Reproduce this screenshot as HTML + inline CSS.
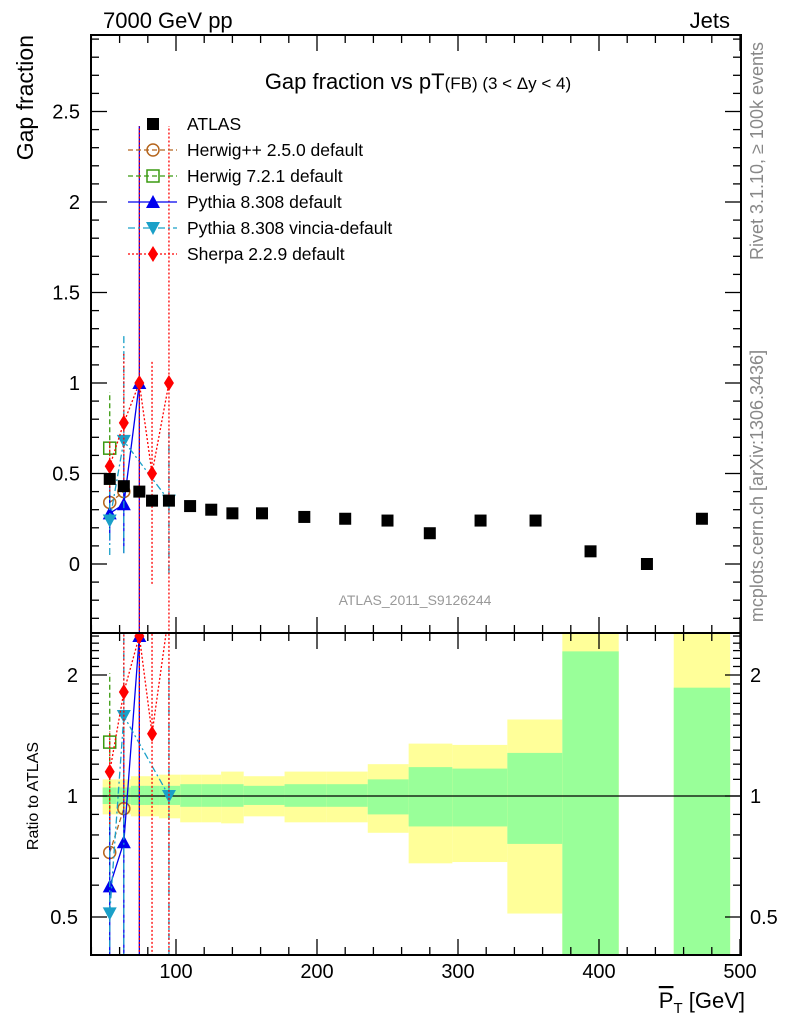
<!DOCTYPE html>
<html><head><meta charset="utf-8"><style>
html,body{margin:0;padding:0;background:#fff;width:786px;height:1024px;overflow:hidden}
svg{display:block;font-family:"Liberation Sans",sans-serif}
</style></head><body>
<svg id="c" width="786" height="1024" xmlns="http://www.w3.org/2000/svg"></svg>
<script>
// ---- data ----
const binLo = [48,58,68,78,88,103,118,132,148,177,207,236,265,296,335,374,414,453];
const binHi = [58,68,78,88,103,118,132,148,177,207,236,265,296,335,374,414,453,493];
const atlasX = [53,63,74,83,95,110,125,140,161,191,220,250,280,316,355,394,434,473];
const atlasY = [0.47,0.43,0.40,0.35,0.35,0.32,0.30,0.28,0.28,0.26,0.25,0.24,0.17,0.24,0.24,0.07,0.0,0.25];
const yelUp = [1.10,1.10,1.12,1.12,1.13,1.13,1.13,1.15,1.12,1.15,1.15,1.20,1.35,1.34,1.55,3.0,null,3.0];
const yelDn = [0.90,0.90,0.89,0.89,0.88,0.86,0.86,0.855,0.89,0.86,0.86,0.81,0.68,0.685,0.51,0.3,null,0.3];
const grnUp = [1.05,1.05,1.06,1.06,1.06,1.07,1.07,1.07,1.06,1.07,1.07,1.10,1.18,1.17,1.28,2.29,null,1.86];
const grnDn = [0.955,0.955,0.95,0.95,0.95,0.94,0.94,0.94,0.95,0.94,0.94,0.90,0.84,0.84,0.76,0.3,null,0.3];
const hppX=[53,63], hppY=[0.34,0.40], hppLo=[0.30,0.36], hppHi=[0.38,0.44];
const h7X=[53], h7Y=[0.64], h7Lo=[0.33], h7Hi=[0.95];
const pyX=[53,63,74], pyY=[0.28,0.33,1.0], pyLo=[0.13,0.06,-0.5], pyHi=[0.43,0.60,2.42];
const viX=[53,63,95], viY=[0.24,0.68,0.35], viLo=[0.05,0.06,-0.05], viHi=[0.43,1.27,0.73];
const shX=[53,63,74,83,95], shY=[0.54,0.78,1.0,0.50,1.0], shLo=[0.4,0.4,-0.5,-0.11,-0.5], shHi=[0.68,1.16,2.42,1.12,2.42];
const xTicks=[100,200,300,400,500];
const yTicks=[0,0.5,1,1.5,2,2.5];
const rTicks=[0.5,1,2];

// ---- geometry ----
const L=91,R=741,T=35,B=633,RB=955;
const X=v=>35+1.41*v;
const Y=v=>564-181*v;
const RY=v=>796-121*Math.log2(v);
const NS="http://www.w3.org/2000/svg";
const svg=document.getElementById('c');
function mk(tag,attrs,parent){const e=document.createElementNS(NS,tag);for(const k in attrs)e.setAttribute(k,attrs[k]);(parent||svg).appendChild(e);return e;}
function txt(s,x,y,attrs,parent){const e=mk('text',Object.assign({x:x,y:y},attrs),parent);e.textContent=s;return e;}

const defs=mk('defs',{});
const cp1=mk('clipPath',{id:'cm'},defs);mk('rect',{x:L,y:T,width:R-L,height:B-T},cp1);
const cp2=mk('clipPath',{id:'cr'},defs);mk('rect',{x:L,y:B,width:R-L,height:RB-B},cp2);

// bands
const gb=mk('g',{'clip-path':'url(#cr)'});


for(let i=0;i<binLo.length;i++){
  if(yelUp[i]===null)continue;
  const x1=X(binLo[i]),x2=X(binHi[i]);
  const y1=mk('rect',{x:x1,y:RY(yelUp[i]),width:x2-x1,height:RY(yelDn[i])-RY(yelUp[i]),fill:'#ffff99'},gb);
  
  
  const g1=mk('rect',{x:x1,y:RY(grnUp[i]),width:x2-x1,height:RY(grnDn[i])-RY(grnUp[i]),fill:'#99ff99'},gb);
  
  
}
mk('line',{x1:L,x2:R,y1:RY(1),y2:RY(1),stroke:'#000','stroke-width':1.2});

// markers
function marker(kind,x,y,col,parent){
  const s=6;
  if(kind==='sq')return mk('rect',{x:x-s,y:y-s,width:2*s,height:2*s,fill:'#000'},parent);
  if(kind==='osq')return mk('rect',{x:x-s,y:y-s,width:2*s,height:2*s,fill:'none',stroke:col,'stroke-width':1.5},parent);
  if(kind==='oc')return mk('circle',{cx:x,cy:y,r:6,fill:'none',stroke:col,'stroke-width':1.5},parent);
  if(kind==='tu')return mk('path',{d:`M${x-7},${y+6}L${x+7},${y+6}L${x},${y-7}Z`,fill:col},parent);
  if(kind==='td')return mk('path',{d:`M${x-7},${y-6}L${x+7},${y-6}L${x},${y+7}Z`,fill:col},parent);
  if(kind==='di')return mk('path',{d:`M${x},${y-8}L${x+5},${y}L${x},${y+8}L${x-5},${y}Z`,fill:col},parent);
}
const series=[
 {name:'herwigpp',xs:hppX,ys:hppY,lo:hppLo,hi:hppHi,col:'#b5651d',dash:'5,3',m:'oc'},
 {name:'herwig7',xs:h7X,ys:h7Y,lo:h7Lo,hi:h7Hi,col:'#3a9a10',dash:'5,3',m:'osq'},
 {name:'pythia',xs:pyX,ys:pyY,lo:pyLo,hi:pyHi,col:'#0000ee',dash:'',m:'tu'},
 {name:'vincia',xs:viX,ys:viY,lo:viLo,hi:viHi,col:'#1aa0c8',dash:'7,3,2,3',m:'td'},
 {name:'sherpa',xs:shX,ys:shY,lo:shLo,hi:shHi,col:'#ff0000',dash:'2,2',m:'di'}
];
function atl(x){return atlasY[atlasX.indexOf(x)];}
for(const pass of [0,1]){
  const g=mk('g',{'clip-path':pass?'url(#cr)':'url(#cm)'});
  
  
  const yf=pass?(v,x)=>RY(Math.max(v/atl(x),0.01)):(v)=>Y(v);
  for(const s of series){
    const sg=mk('g',{},g);
    
    
    const pts=s.xs.map((x,i)=>X(x)+','+yf(s.ys[i],x)).join(' ');
    mk('polyline',{points:pts,fill:'none',stroke:s.col,'stroke-width':1.3,'stroke-dasharray':s.dash},sg);
    s.xs.forEach((x,i)=>{
      mk('line',{x1:X(x),x2:X(x),y1:yf(s.lo[i],x),y2:yf(s.hi[i],x),stroke:s.col,'stroke-width':1.3,'stroke-dasharray':s.dash},sg);
      const m=marker(s.m,X(x),yf(s.ys[i],x),s.col,sg);
      
      
    });
  }
  if(!pass){
    atlasX.forEach((x,i)=>{
      const m=marker('sq',X(x),Y(atlasY[i]),'#000',g);
      
      
    });
  }
}

// frames and ticks
mk('rect',{x:L,y:T,width:R-L,height:B-T,fill:'none',stroke:'#000','stroke-width':2});
mk('rect',{x:L,y:B,width:R-L,height:RB-B,fill:'none',stroke:'#000','stroke-width':2});
const tk=mk('g',{stroke:'#000','stroke-width':1.3});
for(let v=40;v<=500;v+=20){
  const maj=v%100===0,l=maj?16:8,x=X(v);
  for(const [y0,d] of [[T,1],[B,-1],[B,1],[RB,-1]]) mk('line',{x1:x,x2:x,y1:y0,y2:y0+d*l},tk);
}
for(let k=-3;k<=29;k++){
  const v=k/10,y=Y(v);if(y<T||y>B)continue;
  const l=(k%5===0)?16:8;
  mk('line',{x1:L,x2:L+l,y1:y,y2:y},tk);mk('line',{x1:R,x2:R-l,y1:y,y2:y},tk);
}
const rmin=[0.4,0.5,0.6,0.7,0.8,0.9,1.0,1.1,1.2,1.3,1.4,1.5,1.6,1.7,1.8,1.9,2.0,2.1,2.2,2.3,2.4,2.5];
for(const v of rmin){const y=RY(v);if(y<B||y>RB)continue;
  const l=rTicks.includes(v)?16:8;
  mk('line',{x1:L,x2:L+l,y1:y,y2:y},tk);mk('line',{x1:R,x2:R-l,y1:y,y2:y},tk);}

// tick labels
xTicks.forEach(v=>{const t=txt(String(v),X(v),978,{'font-size':20,'text-anchor':'middle'});});
yTicks.forEach(v=>{const t=txt(String(v),80,Y(v)+7,{'font-size':20,'text-anchor':'end'});});
rTicks.forEach(v=>{
  const a=txt(String(v),78,RY(v)+7,{'font-size':20,'text-anchor':'end'});
  const b=txt(String(v),750,RY(v)+7,{'font-size':20});
});

// legend
const lg=mk('g',{});


const ln=[['ATLAS',null],['Herwig++ 2.5.0 default',series[0]],['Herwig 7.2.1 default',series[1]],['Pythia 8.308 default',series[2]],['Pythia 8.308 vincia-default',series[3]],['Sherpa 2.2.9 default',series[4]]];
ln.forEach((e,i)=>{
  const y=124+26*i;
  const eg=mk('g',{},lg);
  
  
  if(e[1]){
    mk('line',{x1:128,x2:177,y1:y,y2:y,stroke:e[1].col,'stroke-width':1.3,'stroke-dasharray':e[1].dash},eg);
    marker(e[1].m,153,y,e[1].col,eg);
  } else marker('sq',153,y,'#000',eg);
  txt(e[0],187,y+6,{'font-size':17.5},eg);
});

// texts
const T1=txt('7000 GeV pp',103,28,{'font-size':22});
const T2=txt('Jets',730,28,{'font-size':22,'text-anchor':'end'});
const ti=mk('text',{x:418,y:89,'font-size':22,'text-anchor':'middle'});
ti.innerHTML='Gap fraction vs pT<tspan font-size="17">(FB) (3 &lt; Δy &lt; 4)</tspan>';

const yl=txt('Gap fraction',0,0,{'font-size':23,'text-anchor':'end',transform:'translate(33,35) rotate(-90)'});

const rl=txt('Ratio to ATLAS',0,0,{'font-size':16,'text-anchor':'middle',transform:'translate(38,796) rotate(-90)'});

const xl=mk('text',{x:745,y:1008,'font-size':22,'text-anchor':'end'});
xl.innerHTML='<tspan text-decoration="overline">P</tspan><tspan font-size="15" dy="5">T</tspan><tspan dy="-5"> [GeV]</tspan>';

const r1=txt('Rivet 3.1.10, ≥ 100k events',0,0,{'font-size':18,fill:'#888','text-anchor':'middle',transform:'translate(763,151) rotate(-90)'});

const r2=txt('mcplots.cern.ch [arXiv:1306.3436]',0,0,{'font-size':18,fill:'#888','text-anchor':'middle',transform:'translate(763,486) rotate(-90)'});

const wm=txt('ATLAS_2011_S9126244',415,605,{'font-size':14,fill:'#999','text-anchor':'middle'});

</script>
</body></html>
